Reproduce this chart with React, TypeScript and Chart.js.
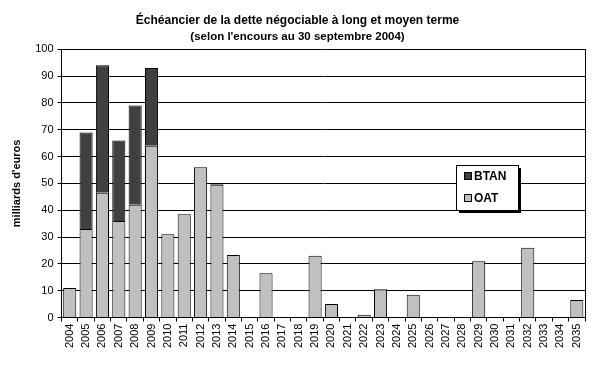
import React, { useEffect, useRef } from "react";
import { Chart, registerables } from "chart.js";
Chart.register(...registerables);

const years = ["2004","2005","2006","2007","2008","2009","2010","2011","2012","2013","2014","2015","2016","2017","2018","2019","2020","2021","2022","2023","2024","2025","2026","2027","2028","2029","2030","2031","2032","2033","2034","2035"];
const oat = [11, 33, 46.5, 36, 42, 64, 31, 38.5, 56, 49.5, 23.3, 0, 16.5, 0, 0, 23, 5, 0, 1, 10.5, 0, 8.5, 0, 0, 0, 21, 0, 0, 26, 0, 0, 6.5];
const btan = [0, 36, 47.5, 30, 37, 29, 0, 0, 0, 0.5, 0, 0, 0, 0, 0, 0, 0, 0, 0, 0, 0, 0, 0, 0, 0, 0, 0, 0, 0, 0, 0, 0];
const yTicks = [0, 10, 20, 30, 40, 50, 60, 70, 80, 90, 100];

const FONT = "'Liberation Sans', Arial, sans-serif";
const OAT_COLOR = "#c0c0c0";
const BTAN_COLOR = "#404040";

const decor = {
  id: "decor",
  afterDraw(chart: any) {
    const { ctx, chartArea } = chart;
    ctx.save();
    ctx.strokeStyle = "#000";
    ctx.lineWidth = 1;
    ctx.beginPath();
    ctx.moveTo(Math.round(chartArea.right) + 0.5, chartArea.top);
    ctx.lineTo(Math.round(chartArea.right) + 0.5, chartArea.bottom);
    ctx.stroke();
    const x = 456, y = 165, w = 62, h = 45;
    ctx.fillStyle = "#000";
    ctx.fillRect(x + 3, y + 3, w, h);
    ctx.fillStyle = "#fff";
    ctx.fillRect(x, y, w, h);
    ctx.strokeStyle = "#000";
    ctx.strokeRect(x + 0.5, y + 0.5, w, h);
    const items = [["BTAN", BTAN_COLOR], ["OAT", OAT_COLOR]];
    ctx.font = "bold 12px " + FONT;
    ctx.textBaseline = "middle";
    items.forEach((it, i) => {
      const cy = y + 11 + i * 22;
      ctx.fillStyle = it[1];
      ctx.fillRect(x + 9, cy - 3, 6, 6);
      ctx.strokeStyle = "#000";
      ctx.strokeRect(x + 8.5, cy - 3.5, 7, 7);
      ctx.fillStyle = "#000";
      ctx.fillText(it[0], x + 18, cy + 1);
    });
    ctx.restore();
  },
};

export default function App() {
  const ref = useRef<HTMLCanvasElement>(null);
  useEffect(() => {
    document.body.style.margin = "0";
    const chart = new Chart(ref.current as HTMLCanvasElement, {
      type: "bar",
      data: {
        labels: years,
        datasets: [
          { label: "OAT", data: oat, backgroundColor: OAT_COLOR, borderColor: "#000", borderWidth: 1, barPercentage: 0.8, categoryPercentage: 1 },
          { label: "BTAN", data: btan, backgroundColor: BTAN_COLOR, borderColor: "#000", borderWidth: 1, barPercentage: 0.8, categoryPercentage: 1 },
        ],
      },
      options: {
        animation: false,
        responsive: false,
        layout: { padding: { left: 10, right: 15, top: 6, bottom: 18 } },
        plugins: {
          legend: { display: false },
          tooltip: { enabled: false },
          title: { display: true, text: "Échéancier de la dette négociable à long et moyen terme", color: "#000", font: { family: FONT, size: 12, weight: "bold" }, padding: { top: 7, bottom: 3 } },
          subtitle: { display: true, text: "(selon l'encours au 30 septembre 2004)", color: "#000", font: { family: FONT, size: 11.5, weight: "bold" }, padding: { top: 0, bottom: 5 } },
        },
        scales: {
          x: {
            stacked: true,
            grid: { drawOnChartArea: false, drawTicks: true, tickLength: 4, color: "#000", offset: true },
            border: { color: "#000" },
            ticks: { color: "#000", minRotation: 90, maxRotation: 90, autoSkip: false, font: { family: FONT, size: 11 }, padding: 2 },
          },
          y: {
            stacked: true,
            min: 0,
            max: 100,
            afterBuildTicks: (axis: any) => { axis.ticks = yTicks.map((v) => ({ value: v })); },
            grid: { color: "#000", tickLength: 4 },
            border: { color: "#000" },
            ticks: { color: "#000", font: { family: FONT, size: 11 }, padding: 4 },
            title: { display: true, text: "milliards d'euros", color: "#000", font: { family: FONT, size: 11, weight: "bold" }, padding: { top: 0, bottom: 8 } },
          },
        },
      },
      plugins: [decor],
    } as any);
    return () => chart.destroy();
  }, []);
  return <canvas ref={ref} width={600} height={368} style={{ display: "block" }} />;
}
